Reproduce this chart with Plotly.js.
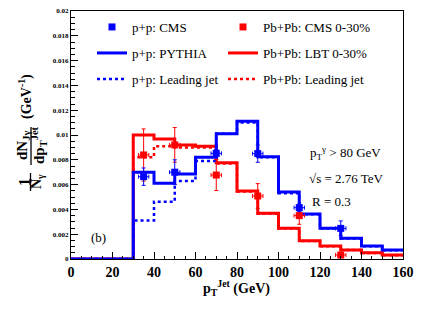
<!DOCTYPE html>
<html>
<head>
<meta charset="utf-8">
<script src="https://cdn.plot.ly/plotly-3.0.1.min.js"></script>
<style>html,body{margin:0;padding:0;background:#fff;}#plot{width:436px;height:312px;}</style>
</head>
<body>
<div id="plot"></div>
<script>
// Bin edges (GeV) and histogram contents (value for bin starting at each edge; last repeated)
const binEdges = [0, 30, 40, 50, 60, 70, 80, 90, 100, 110, 120, 130, 140, 150, 160];
const ppPythia = [0, 0.0070, 0.0061, 0.00685, 0.0082, 0.0101, 0.0111, 0.00825, 0.0054, 0.00363, 0.00247, 0.00167, 0.00105, 0.00073];
const ppLeading = [0, 0.0031, 0.00462, 0.0063, 0.0079, 0.0101, 0.0110, 0.0082, 0.0053, 0.0036, 0.00245, 0.00165, 0.00103, 0.00071];
const pbLBT = [0, 0.0100, 0.00968, 0.0092, 0.0091, 0.00777, 0.00548, 0.00368, 0.00247, 0.00148, 0.00105, 0.00073, 0.0005, 0.00032];
const pbLeading = [0, 0.0082, 0.0091, 0.0090, 0.0090, 0.0077, 0.00545, 0.00365, 0.00245, 0.00146, 0.00103, 0.00072, 0.00049, 0.00031];

// CMS data points
const cmsX = [35, 50, 70, 90, 110, 130];
const cmsXErr = [2.5, 2.5, 2.5, 2.5, 2.5, 2.5];
const ppCMS = [0.00664, 0.0070, 0.00852, 0.0085, 0.00414, 0.00247];
const ppCMSErr = [0.0007, 0.0010, 0.0003, 0.0007, 0.0003, 0.0006];
const pbCMS = [0.00839, 0.0092, 0.00677, 0.00508, 0.0035, 0.00032];
const pbCMSErr = [0.0021, 0.0014, 0.00125, 0.0010, 0.0007, 0.0002];

const xTicks = [0, 20, 40, 60, 80, 100, 120, 140, 160];
const yTicks = [0, 0.002, 0.004, 0.006, 0.008, 0.01, 0.012, 0.014, 0.016, 0.018, 0.02];
const yTickText = ['0', '0.002', '0.004', '0.006', '0.008', '0.01', '0.012', '0.014', '0.016', '0.018', '0.02'];

function withLast(arr) { return arr.concat([arr[arr.length - 1]]); }

const BLUE = '#0000ff', RED = '#ff0000';
const FONT = "'Liberation Serif'";

const traces = [
  {x: binEdges, y: withLast(pbLBT), mode: 'lines', line: {shape: 'hv', color: RED, width: 3},
   name: 'Pb+Pb: LBT 0-30%', legend: 'legend5'},
  {x: binEdges, y: withLast(pbLeading), mode: 'lines', line: {shape: 'hv', color: RED, width: 2.5, dash: 'dot'},
   name: 'Pb+Pb: Leading jet', legend: 'legend6'},
  {x: binEdges, y: withLast(ppPythia), mode: 'lines', line: {shape: 'hv', color: BLUE, width: 3},
   name: 'p+p: PYTHIA', legend: 'legend2'},
  {x: binEdges, y: withLast(ppLeading), mode: 'lines', line: {shape: 'hv', color: BLUE, width: 2.5, dash: 'dot'},
   name: 'p+p: Leading jet', legend: 'legend3'},
  {x: cmsX, y: pbCMS, mode: 'markers', marker: {symbol: 'square', size: 7, color: RED},
   error_y: {type: 'data', array: pbCMSErr, color: RED, thickness: 1, width: 2},
   error_x: {type: 'data', array: cmsXErr, color: RED, thickness: 1, width: 2},
   name: 'Pb+Pb: CMS 0-30%', legend: 'legend4'},
  {x: cmsX, y: ppCMS, mode: 'markers', marker: {symbol: 'square', size: 7, color: BLUE},
   error_y: {type: 'data', array: ppCMSErr, color: BLUE, thickness: 1, width: 2},
   error_x: {type: 'data', array: cmsXErr, color: BLUE, thickness: 1, width: 2},
   name: 'p+p: CMS', legend: 'legend'}
];

const L = 71, R = 403, T = 11, B = 259;
const px = p => (p - L) / (R - L);
const py = p => (B - p) / (B - T);

function ytAnn(text, x, y, size) {
  return {text: text, xref: 'paper', yref: 'paper', x: px(x), y: py(y), showarrow: false,
    textangle: -90, xanchor: 'center', yanchor: 'middle', font: {family: FONT, size: size, color: '#000'}};
}
function txt(text, x, y, size, anchor) {
  return {text: text, xref: 'paper', yref: 'paper', x: px(x), y: py(y), showarrow: false,
    xanchor: anchor || 'left', yanchor: 'middle', font: {family: FONT, size: size, color: '#000'}};
}

function leg(x, y) {
  return {orientation: 'v', bgcolor: 'rgba(0,0,0,0)', borderwidth: 0,
    font: {family: FONT, size: 13, color: '#000'}, x: px(x), y: py(y),
    xanchor: 'left', yanchor: 'middle', itemclick: false};
}

const layout = {
  width: 436, height: 312,
  margin: {l: L, r: 436 - R, t: T, b: 312 - B, pad: 0},
  paper_bgcolor: '#fff', plot_bgcolor: '#fff',
  showlegend: true,
  legend: leg(92, 27), legend2: leg(92, 53), legend3: leg(92, 79),
  legend4: leg(223, 27), legend5: leg(223, 53), legend6: leg(223, 79),
  xaxis: {range: [0, 160], tickvals: xTicks, ticks: 'inside', ticklen: 7, tickwidth: 1, tickcolor: '#000',
    showgrid: false, zeroline: false, showline: true, linecolor: '#000', linewidth: 1.2, mirror: true,
    tickfont: {family: FONT, size: 14, color: '#000', weight: 'bold'},
    minor: {dtick: 5, ticks: 'inside', ticklen: 3.5, tickcolor: '#000', showgrid: false}},
  yaxis: {range: [0, 0.02], tickvals: yTicks, ticktext: yTickText, ticks: 'inside', ticklen: 7, tickwidth: 1, tickcolor: '#000',
    showgrid: false, zeroline: false, showline: true, linecolor: '#000', linewidth: 1.2, mirror: true,
    tickfont: {family: FONT, size: 7, color: '#000', weight: 'bold'},
    minor: {dtick: 0.0005, ticks: 'inside', ticklen: 3.5, tickcolor: '#000', showgrid: false}},
  annotations: [
    ytAnn('<b>1</b>', 24, 182, 16),
    ytAnn('<b>N<sub>γ</sub></b>', 37, 182, 14),
    ytAnn('<b>dN<sub>Jγ</sub></b>', 23, 146, 15),
    ytAnn('<b>dp<sub>T</sub><sup>Jet</sup></b>', 39, 145, 15),
    ytAnn('<b>(GeV<sup>-1</sup>)</b>', 25, 97, 14),
    txt('<b>p<sub>T</sub><sup>Jet</sup> (GeV)</b>', 236, 288, 14, 'center'),
    txt('p<sub>T</sub><sup>γ</sup> > 80 GeV', 308, 153, 13),
    txt('√s = 2.76 TeV', 307, 178, 13),
    txt('R = 0.3', 310, 201, 13),
    txt('(b)', 98, 237, 13, 'center')
  ],
  shapes: [
    {type: 'line', xref: 'paper', yref: 'paper', x0: px(30.5), x1: px(30.5), y0: py(173), y1: py(191), line: {color: '#000', width: 1.3}},
    {type: 'line', xref: 'paper', yref: 'paper', x0: px(31), x1: px(31), y0: py(127), y1: py(165), line: {color: '#000', width: 1.3}}
  ]
};

Plotly.newPlot('plot', traces, layout, {displayModeBar: false, staticPlot: true});
</script>
</body>
</html>
